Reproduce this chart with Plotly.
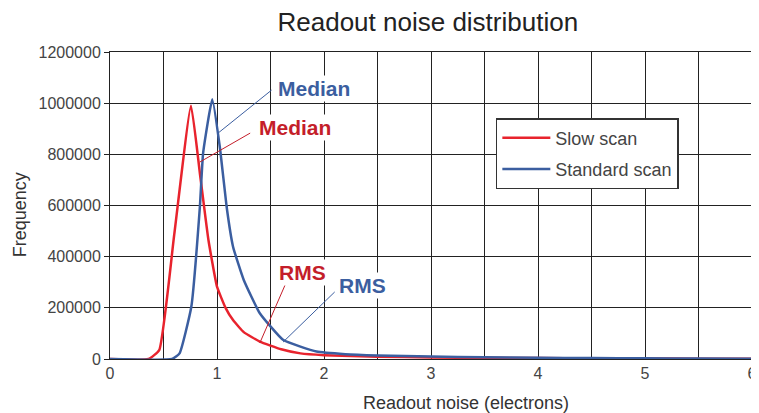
import plotly.graph_objects as go

RED = "#e8232d"
BLUE = "#3b5ea0"
RED_TEXT = "#c41e2a"
FONT = "Liberation Sans, Arial, sans-serif"

# Slow scan curve (electrons, frequency)
slow_x = [0.0, 0.36, 0.46, 0.60, 0.757, 0.84, 0.92, 1.0, 1.08, 1.15, 1.25, 1.40, 1.60, 1.78, 2.0,
          2.5, 3.0, 3.5, 4.0, 4.5, 5.0, 5.5, 6.0]
slow_y = [0, 0, 35000, 485000, 990000, 726000, 465000, 283000, 200000, 152000, 105000, 68000,
          38000, 22000, 15000, 9000, 6000, 4500, 3500, 2500, 1800, 1200, 800]

# Standard scan curve
std_x = [0.0, 0.58, 0.65, 0.76, 0.84, 0.87, 0.956, 1.03, 1.09, 1.15, 1.25, 1.40, 1.62, 1.93, 2.2,
         2.5, 3.0, 3.5, 4.0, 4.5, 5.0, 5.5, 6.0]
std_y = [0, 0, 22000, 204000, 595000, 804000, 1015000, 817000, 595000, 439000, 309000, 179000, 74000,
         29000, 19000, 14000, 9500, 7000, 5000, 3800, 2800, 1800, 1000]

SERIES = ["Slow scan", "Standard scan"]

fig = go.Figure()
fig.add_trace(go.Scatter(x=slow_x, y=slow_y, mode="lines", name=SERIES[0], legendgroup="a",
                         line=dict(color=RED, width=2.5, shape="spline", smoothing=0.4)))
fig.add_trace(go.Scatter(x=std_x, y=std_y, mode="lines", name=SERIES[1], legendgroup="b",
                         line=dict(color=BLUE, width=2.5, shape="spline", smoothing=0.4)))

# leader lines for the labels
leaders = [
    (1.01, 883000, 1.51, 1051000, BLUE),
    (0.84, 770000, 1.31, 883000, RED_TEXT),
    (1.40, 62500, 1.636, 289000, RED_TEXT),
    (1.617, 66000, 2.10, 262000, BLUE),
]
for x0, y0, x1, y1, c in leaders:
    fig.add_shape(type="line", x0=x0, y0=y0, x1=x1, y1=y1, xref="x", yref="y",
                  line=dict(color=c, width=1))

labels = [
    ("Median", 1.555, 1059000, BLUE),
    ("Median", 1.37, 903000, RED_TEXT),
    ("RMS", 1.56, 340000, RED_TEXT),
    ("RMS", 2.12, 289000, BLUE),
]
for text, x, y, c in labels:
    fig.add_annotation(x=x, y=y, text=f"<b>{text}</b>", showarrow=False, xanchor="left",
                       yanchor="middle", bgcolor="white", borderpad=1,
                       font=dict(family=FONT, size=21, color=c))

# axis titles (placed off-centre like the original)
fig.add_annotation(text="Readout noise (electrons)", xref="paper", yref="paper", x=0.555, y=-0.143,
                   xanchor="center", yanchor="middle", showarrow=False,
                   font=dict(family=FONT, size=18, color="#333"))
fig.add_annotation(text="Frequency", xref="paper", yref="paper", x=-0.141, y=0.47, textangle=-90,
                   xanchor="center", yanchor="middle", showarrow=False,
                   font=dict(family=FONT, size=18, color="#333"))

fig.update_layout(
    width=751,
    height=405,
    title=dict(text="Readout noise distribution", x=0.559, xanchor="center", y=0.965,
               yanchor="middle", font=dict(family=FONT, size=26, color="#222")),
    font=dict(family=FONT, size=16, color="#444"),
    margin=dict(l=102, r=7, t=44, b=54),
    paper_bgcolor="white",
    plot_bgcolor="white",
    legend=dict(x=0.601, y=0.785, xanchor="left", yanchor="top", bgcolor="white",
                bordercolor="#333", borderwidth=1.5, font=dict(family=FONT, size=18, color="#444"),
                itemwidth=48, tracegroupgap=5, entrywidth=185),
)
fig.update_xaxes(range=[0, 6], dtick=1, showgrid=True, gridcolor="#222", gridwidth=1,
                 minor=dict(dtick=0.5, showgrid=True, gridcolor="#222", gridwidth=1),
                 showline=True, linecolor="#222", linewidth=1, mirror=True, zeroline=False,
                 automargin=False, ticklabeloverflow="allow",
                 tickfont=dict(size=16, color="#444"))
fig.update_yaxes(range=[0, 1200000], dtick=200000, tickformat="d", showgrid=True, gridcolor="#222",
                 gridwidth=1, showline=True, linecolor="#222", linewidth=1, mirror=True, zeroline=False,
                 ticks="outside", ticklen=5, tickcolor="#222", automargin=False,
                 tickfont=dict(size=16, color="#444"))

fig.write_html("out.html")
